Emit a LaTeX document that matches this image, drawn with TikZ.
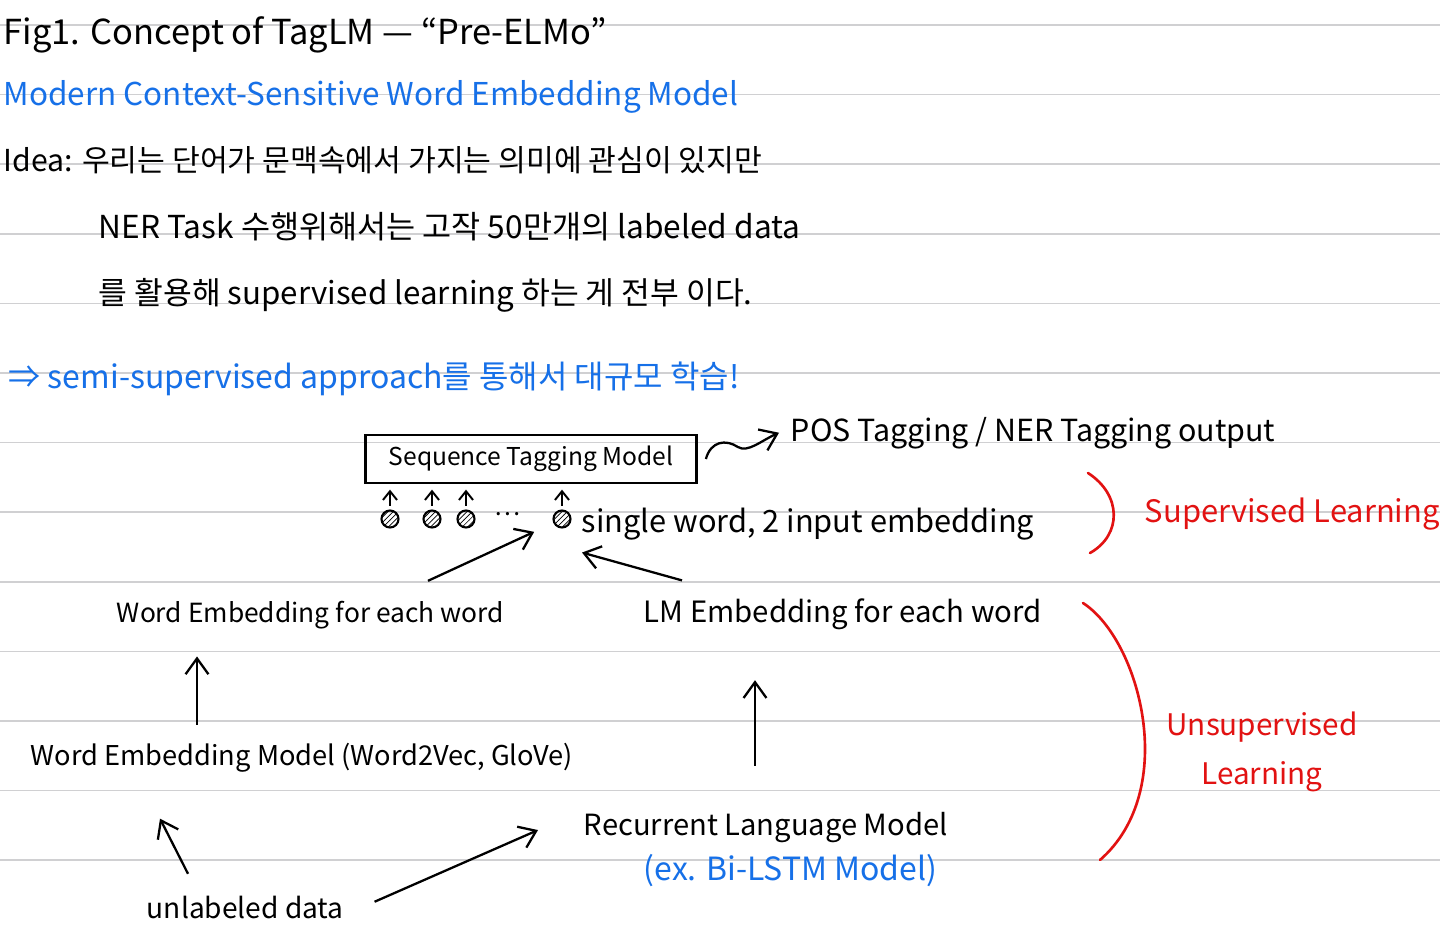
\documentclass[tikz,border=0pt]{standalone}
\usepackage{fontspec}
\setmainfont{Noto Sans CJK KR}
\usetikzlibrary{arrows.meta,calc,patterns}
\definecolor{noteBlue}{RGB}{22,112,232}
\definecolor{noteRed}{RGB}{226,18,18}
\definecolor{noteRule}{RGB}{208,208,210}
\newcommand{\fs}[1]{\fontsize{#1}{1.2\dimexpr#1pt\relax}\selectfont}

\begin{document}
\begin{tikzpicture}[x=0.02cm,y=-0.02cm,
  txt/.style={anchor=base west,inner sep=2pt,font=\fs{16}},
  arr/.style={-{Straight Barb[length=9pt,width=13pt]},line width=1.3pt},
  tick/.style={-{Straight Barb[length=5pt,width=8pt]},line width=1.1pt},
  dot/.style={circle,draw,line width=1.2pt,minimum size=0.34cm,inner sep=0pt,pattern=north east lines},
  brace/.style={noteRed,line width=1.5pt,line cap=round}]
  \useasboundingbox (0,0) rectangle (1440,926);
  \fill[white] (0,0) rectangle (1440,926);
  % ruled paper
  \foreach \k in {0,...,12}
    \draw[noteRule,line width=1pt] (0,{25+69.6*\k}) -- (1440,{25+69.6*\k});

  % header and idea
  \node[txt,font=\fs{19.6}] (title) at (0,45) {Fig1. Concept of TagLM — “Pre-ELMo”};
  \node[txt,noteBlue,font=\fs{17.9}] (sub) at (0,106) {Modern Context-Sensitive Word Embedding Model};
  \node[txt,font=\fs{17.2}] (idea) at (0,172) {Idea: 우리는 단어가 문맥속에서 가지는 의미에 관심이 있지만};
  \node[txt,font=\fs{18}] (ner) at (95,238) {NER Task 수행위해서는 고작 50만개의 labeled data};
  \node[txt,font=\fs{17.8}] (use) at (95,304) {를 활용해 supervised learning 하는 게 전부 이다.};
  \node[txt,noteBlue,font=\fs{18.2}] (semi) at (5,388) {⇒ semi-supervised approach를 통해서 대규모 학습!};

  % tagging model
  \node[draw,line width=1.6pt,minimum width=6.62cm,minimum height=0.96cm,
    font=\fs{14}] (stm) at (531,459) {Sequence Tagging Model};
  \node[txt,font=\fs{17.3}] (pos) at (787,441) {POS Tagging / NER Tagging output};
  \draw[arr] ($(stm.east)+(8,0)$) .. controls +(5,-18) and +(-12,-8) .. +(32,-12)
    .. controls +(10,6) and +(-18,8) .. ($(pos.west)+(-8,0)$);

  \node[dot] (d1) at (390,519) {};
  \node[dot] (d2) at (432,519) {};
  \node[dot] (d3) at (466,519) {};
  \node[font=\fs{14}] (dd) at (508,514) {…};
  \node[dot] (d4) at (562,519) {};
  \foreach \d in {d1,d2,d3,d4}
    \draw[tick,shorten <=2pt,shorten >=3pt] (\d.north) -- (\d.north |- stm.south);
  \node[txt,font=\fs{17.5}] (inp) at (578,532) {single word, 2 input embedding};

  \draw[brace] (1088,473) .. controls (1122,495) and (1122,535) .. (1090,553);
  \node[txt,noteRed,font=\fs{17.6}] (sup) at (1141,522) {Supervised Learning};

  % embeddings
  \node[txt,font=\fs{15}] (wefw) at (113,622) {Word Embedding for each word};
  \node[txt,font=\fs{16.7}] (lmfw) at (640,622) {LM Embedding for each word};
  \draw[arr,shorten >=12pt] ($(wefw.north west)+(315,-16)$) -- (d4);
  \draw[arr] ($(lmfw.north west)+(42,-14)$) -- ($(inp.south west)+(4,9)$);

  \draw[brace] (1083,603) .. controls (1140,640) and (1180,790) .. (1100,860);
  \node[noteRed,align=center,font=\fontsize{16.9}{28}\selectfont] (unsup) at (1262,752) {Unsupervised\\Learning};

  % pre-trained models
  \node[txt,font=\fs{15.5}] (wem) at (27,765) {Word Embedding Model (Word2Vec, GloVe)};
  \draw[arr] ($(wem.north west)+(170,-14)$) -- ($(wefw.south west)+(84,24)$);
  \node[txt,font=\fs{16.6}] (rlm) at (580,835) {Recurrent Language Model};
  \node[txt,noteBlue,font=\fs{18.2}] (ex) at (640,880) {(ex. Bi-LSTM Model)};
  \draw[arr] ($(rlm.north west)+(175,-42)$) -- ($(lmfw.south west)+(115,47)$);

  \node[txt] (unl) at (143,918) {unlabeled data};
  \draw[arr] ($(unl.north west)+(45,-18)$) -- ($(wem.south west)+(133,43)$);
  \draw[arr] ($(unl.north east)+(27,10)$) -- ($(rlm.west)+(-42,3)$);
\end{tikzpicture}
\end{document}
